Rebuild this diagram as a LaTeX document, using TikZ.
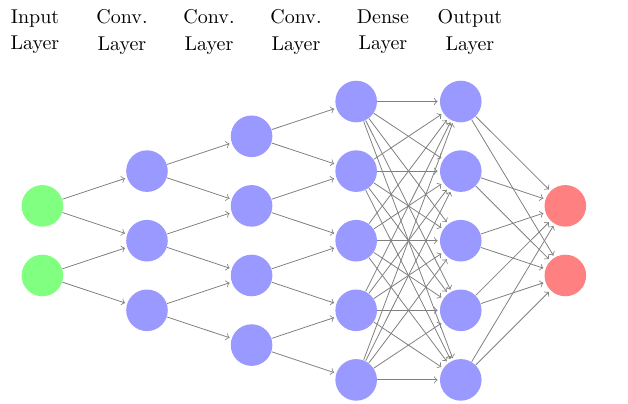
\documentclass[tikz,border=0pt]{standalone}
\usepackage{tikz}

\begin{document}
\begin{tikzpicture}[>=to, shorten >=1pt,
    unit/.style={circle, minimum size=20.8pt, inner sep=0pt},
    inunit/.style={unit, fill=green!50},
    hidunit/.style={unit, fill=blue!40},
    outunit/.style={unit, fill=red!50},
    layertitle/.style={align=center, inner sep=0pt, font=\fontsize{10}{13.3}\selectfont},
    wire/.style={->, draw=gray}]

    \useasboundingbox (0, 0) rectangle (11.036, 7.082) ;

    % layer titles %
    \node [layertitle] (t-in)  at (0.615, 6.524) {Input\\Layer} ;
    \node [layertitle] (t-c1)  at (2.144, 6.524) {Conv.\\Layer} ;
    \node [layertitle] (t-c2)  at (3.673, 6.524) {Conv.\\Layer} ;
    \node [layertitle] (t-c3)  at (5.202, 6.524) {Conv.\\Layer} ;
    \node [layertitle] (t-d)   at (6.730, 6.524) {Dense\\Layer} ;
    \node [layertitle] (t-out) at (8.259, 6.524) {Output\\Layer} ;

    % units %

    % input layer
    \node [inunit] (in-1) at (0.745, 3.464) {} ;
    \node [inunit] (in-2) at (0.745, 2.241) {} ;

    % first conv. layer
    \node [hidunit] (ca-1) at (2.583, 4.075) {} ;
    \node [hidunit] (ca-2) at (2.583, 2.852) {} ;
    \node [hidunit] (ca-3) at (2.583, 1.629) {} ;

    % second conv. layer
    \node [hidunit] (cb-1) at (4.421, 4.687) {} ;
    \node [hidunit] (cb-2) at (4.421, 3.464) {} ;
    \node [hidunit] (cb-3) at (4.421, 2.241) {} ;
    \node [hidunit] (cb-4) at (4.421, 1.018) {} ;

    % third conv. layer
    \node [hidunit] (cc-1) at (6.259, 5.298) {} ;
    \node [hidunit] (cc-2) at (6.259, 4.075) {} ;
    \node [hidunit] (cc-3) at (6.259, 2.852) {} ;
    \node [hidunit] (cc-4) at (6.259, 1.629) {} ;
    \node [hidunit] (cc-5) at (6.259, 0.406) {} ;

    % dense layer
    \node [hidunit] (d-1) at (8.097, 5.298) {} ;
    \node [hidunit] (d-2) at (8.097, 4.075) {} ;
    \node [hidunit] (d-3) at (8.097, 2.852) {} ;
    \node [hidunit] (d-4) at (8.097, 1.629) {} ;
    \node [hidunit] (d-5) at (8.097, 0.406) {} ;

    % output layer
    \node [outunit] (out-1) at (9.935, 3.464) {} ;
    \node [outunit] (out-2) at (9.935, 2.241) {} ;

    % connections %

    % input -> first conv.
    \draw [wire] (in-1) -- (ca-1) ;
    \draw [wire] (in-1) -- (ca-2) ;
    \draw [wire] (in-2) -- (ca-2) ;
    \draw [wire] (in-2) -- (ca-3) ;

    % first conv. -> second conv.
    \draw [wire] (ca-1) -- (cb-1) ;
    \draw [wire] (ca-1) -- (cb-2) ;
    \draw [wire] (ca-2) -- (cb-2) ;
    \draw [wire] (ca-2) -- (cb-3) ;
    \draw [wire] (ca-3) -- (cb-3) ;
    \draw [wire] (ca-3) -- (cb-4) ;

    % second conv. -> third conv.
    \draw [wire] (cb-1) -- (cc-1) ;
    \draw [wire] (cb-1) -- (cc-2) ;
    \draw [wire] (cb-2) -- (cc-2) ;
    \draw [wire] (cb-2) -- (cc-3) ;
    \draw [wire] (cb-3) -- (cc-3) ;
    \draw [wire] (cb-3) -- (cc-4) ;
    \draw [wire] (cb-4) -- (cc-4) ;
    \draw [wire] (cb-4) -- (cc-5) ;

    % third conv. -> dense (all to all)
    \foreach \i in {1,...,5}
        \foreach \j in {1,...,5}
            \draw [wire] (cc-\i) -- (d-\j) ;

    % dense -> output (all to all)
    \foreach \i in {1,...,5}
        \foreach \j in {1,2}
            \draw [wire] (d-\i) -- (out-\j) ;

\end{tikzpicture}
\end{document}
